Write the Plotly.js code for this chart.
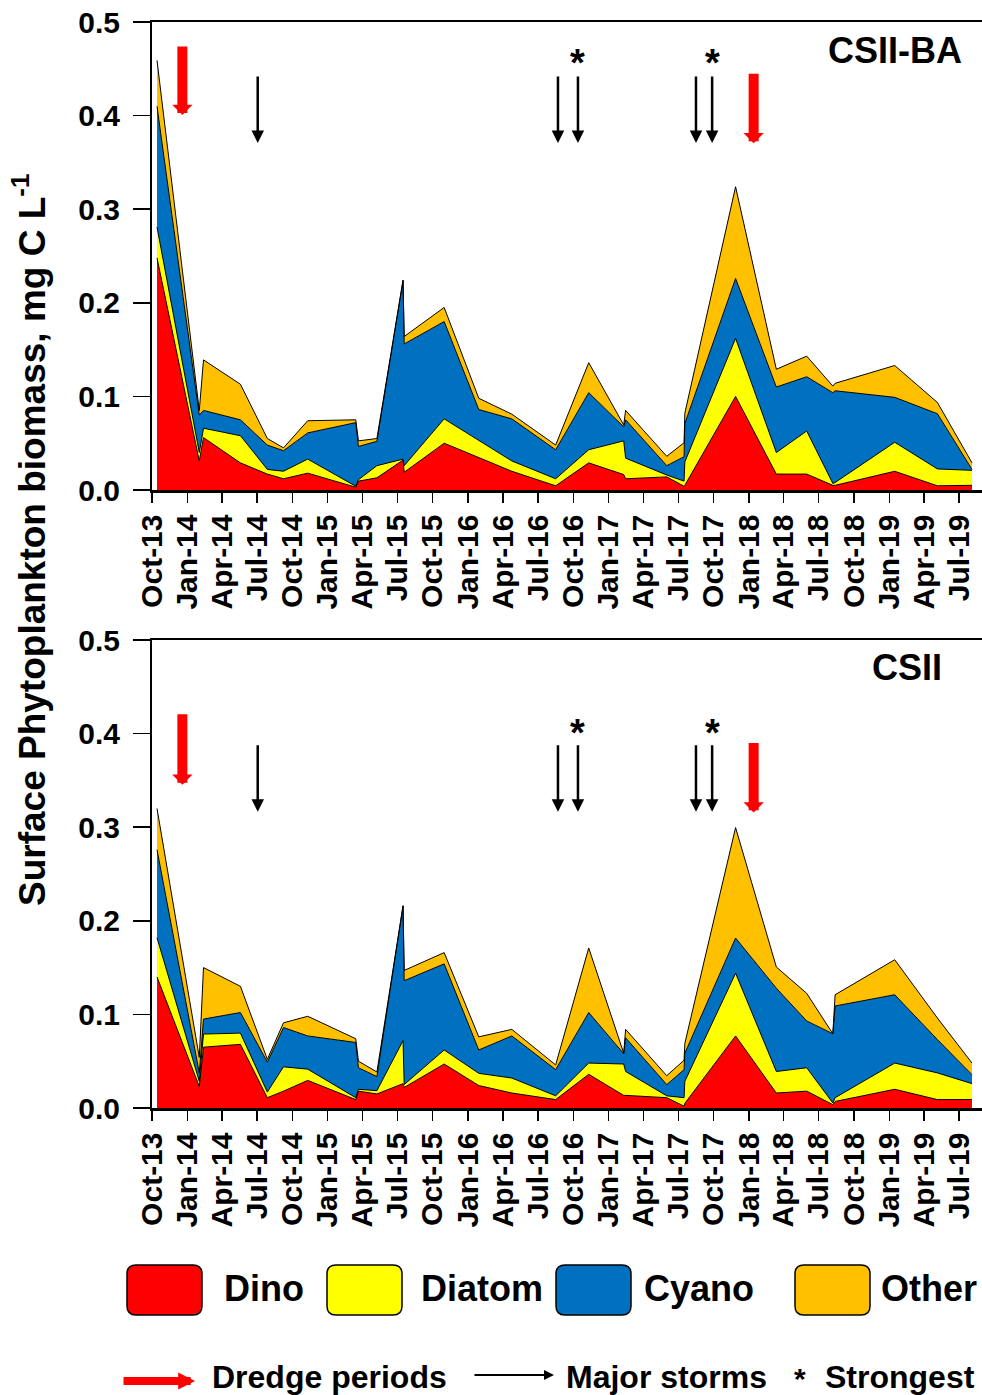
<!DOCTYPE html>
<html><head><meta charset="utf-8">
<script src="https://cdn.plot.ly/plotly-3.0.1.min.js"></script>
<style>html,body{margin:0;padding:0;background:#fff}#chart{width:982px;height:1395px}</style>
</head><body><div id="chart"></div>
<script>
// ---- data ----
const sampleDates = ['2013-10-14','2014-02-01','2014-02-12','2014-05-19','2014-07-28','2014-09-08','2014-11-10',
  '2015-03-15','2015-03-22','2015-05-09','2015-07-16','2015-07-19','2015-10-31','2016-01-29','2016-04-24',
  '2016-08-16','2016-11-10','2017-02-09','2017-02-14','2017-06-01','2017-07-16','2017-07-18','2017-11-27',
  '2018-03-13','2018-05-31','2018-08-07','2018-08-13','2019-01-15','2019-05-06','2019-08-04'];

// CSII-BA (top panel), mg C L-1
const baDino   = [0.248,0.031,0.056,0.029,0.017,0.012,0.018,0.003,0.0095,0.013,0.032,0.019,0.050,0.035,0.020,0.0045,0.029,0.0165,0.012,0.014,0.004,0.005,0.100,0.017,0.017,0.005,0.005,0.020,0.0045,0.005];
const baDiatom = [0.033,0.009,0.010,0.029,0.005,0.008,0.015,0.001,0.0015,0.013,0.001,0.007,0.026,0.018,0.011,0.0075,0.014,0.036,0.022,0.002,0.0055,0.025,0.062,0.023,0.046,0.002,0.003,0.031,0.018,0.016];
const baCyano  = [0.129,0.040,0.019,0.017,0.026,0.022,0.028,0.068,0.0355,0.026,0.191,0.130,0.104,0.033,0.045,0.031,0.061,0.015,0.041,0.010,0.026,0.041,0.064,0.070,0.058,0.097,0.098,0.048,0.059,0.001];
const baOther  = [0.049,0.005,0.054,0.038,0.007,0.003,0.013,0.003,0.006,0.003,0.000,0.008,0.015,0.012,0.005,0.005,0.032,0.002,0.010,0.010,0.015,0.011,0.098,0.019,0.022,0.007,0.008,0.034,0.012,0.007];

// CSII (bottom panel)
const csDino   = [0.140,0.023,0.065,0.068,0.011,0.018,0.0295,0.009,0.018,0.015,0.026,0.022,0.047,0.024,0.016,0.009,0.036,0.0135,0.0135,0.011,0.002,0.005,0.077,0.016,0.018,0.0036,0.007,0.020,0.009,0.009];
const csDiatom = [0.042,0.0055,0.014,0.012,0.006,0.026,0.012,0.002,0.002,0.0035,0.046,0.003,0.015,0.013,0.016,0.004,0.012,0.0335,0.0255,0.002,0.009,0.0235,0.067,0.023,0.025,0.0017,0.004,0.028,0.0285,0.017];
const csCyano  = [0.094,0.009,0.016,0.022,0.032,0.042,0.0355,0.059,0.023,0.015,0.144,0.111,0.092,0.025,0.045,0.028,0.054,0.011,0.036,0.012,0.030,0.030,0.0376,0.089,0.050,0.074,0.098,0.073,0.0356,0.0096];
const csOther  = [0.044,0.0165,0.055,0.028,0.003,0.005,0.021,0.004,0.007,0.005,0.000,0.011,0.012,0.014,0.007,0.005,0.069,0.0005,0.009,0.0095,0.010,0.0105,0.118,0.0226,0.0295,0.000,0.012,0.0374,0.023,0.0124];

const groupNames  = ['Dino','Diatom','Cyano','Other'];
const groupColors = ['#FF0000','#FFFF00','#0070C0','#FFC000'];
const panelNames  = ['CSII-BA','CSII'];

// events
const dredgeDates = ['2013-12-19','2018-01-13'];
const stormDates  = ['2014-07-03','2016-08-22','2016-10-13','2017-08-16','2017-09-27'];
const strongest   = [false,false,true,false,true];

// ---- layout helpers ----
const FONT = 'Liberation Sans, Arial, sans-serif';
const L = 152, PW = 830, T = 22, PH = 1086;
const px2x = px => (px - L) / PW;
const py2y = py => (T + PH - py) / PH;

const tickFont = {family: FONT, size: 30, color: '#000', weight: 'bold'};
function xAxis(anchor) {
  return {type: 'date', range: ['2013-10-01', '2019-08-30'], tick0: '2013-10-01', dtick: 'M3',
    tickformat: '%b-%y', tickangle: -90, ticks: 'outside', ticklen: 10, tickwidth: 1.5, tickcolor: '#000',
    showline: true, linecolor: '#000', linewidth: 2.5, mirror: true, showgrid: false, zeroline: false,
    tickfont: tickFont, anchor: anchor, fixedrange: true};
}
function yAxis(domain, anchor) {
  return {domain: domain, range: [0, 0.5], tick0: 0, dtick: 0.1, tickformat: '.1f', ticks: 'outside',
    ticklen: 17, tickwidth: 1.5, tickcolor: '#000', ticklabelstandoff: 7, showline: true, linecolor: '#000', linewidth: 2,
    showgrid: false, zeroline: false, tickfont: tickFont, anchor: anchor, fixedrange: true};
}

// ---- traces ----
const panels = [
  {xa: 'x', ya: 'y', stack: 'ba', series: [baDino, baDiatom, baCyano, baOther]},
  {xa: 'x2', ya: 'y2', stack: 'cs', series: [csDino, csDiatom, csCyano, csOther]}
];
const traces = [];
panels.forEach(p => {
  p.series.forEach((vals, i) => {
    traces.push({type: 'scatter', mode: 'lines', x: sampleDates, y: vals, name: groupNames[i],
      xaxis: p.xa, yaxis: p.ya, stackgroup: p.stack, fillcolor: groupColors[i],
      line: {color: '#000', width: 1}, showlegend: false, hoverinfo: 'skip'});
  });
});

// ---- annotations ----
const ann = [];
const arrowSpec = [
  {xr: 'x', yr: 'y', redTip: [0.4006, 0.3704], redLen: [70, 71], blackTip: 0.3707, blackLen: 68, star: 0.456},
  {xr: 'x2', yr: 'y2', redTip: [0.3454, 0.3158], redLen: [72, 71], blackTip: 0.3166, blackLen: 68, star: 0.401}
];
arrowSpec.forEach((s, pi) => {
  dredgeDates.forEach((d, i) => {
    ann.push({xref: s.xr, yref: s.yr, x: d, y: s.redTip[i], ax: 0, ay: -s.redLen[i], text: '',
      showarrow: true, arrowhead: 1, arrowwidth: 10, arrowsize: 0.34, arrowcolor: '#FF0000', standoff: 0});
  });
  stormDates.forEach((d, i) => {
    ann.push({xref: s.xr, yref: s.yr, x: d, y: s.blackTip, ax: 0, ay: -s.blackLen, text: '',
      showarrow: true, arrowhead: 2, arrowwidth: 2.5, arrowsize: 1.0, arrowcolor: '#000', standoff: 0});
    if (strongest[i]) {
      ann.push({xref: s.xr, yref: s.yr, x: d, y: s.star, text: '*', showarrow: false,
        xanchor: 'center', yanchor: 'middle', font: {family: FONT, size: 38, weight: 'bold', color: '#000'}});
    }
  });
});
// panel labels
ann.push({xref: 'paper', yref: 'paper', x: px2x(964), y: py2y(50), xanchor: 'right', yanchor: 'middle',
  text: panelNames[0], showarrow: false, font: {family: FONT, size: 36, weight: 'bold', color: '#000'}});
ann.push({xref: 'paper', yref: 'paper', x: px2x(944), y: py2y(667), xanchor: 'right', yanchor: 'middle',
  text: panelNames[1], showarrow: false, font: {family: FONT, size: 36, weight: 'bold', color: '#000'}});
// y title
ann.push({xref: 'paper', yref: 'paper', x: px2x(29), y: py2y(540), xanchor: 'center', yanchor: 'middle',
  textangle: -90, showarrow: false, text: 'Surface Phytoplankton biomass, mg C L<sup>-1</sup>',
  font: {family: FONT, size: 37, weight: 'bold', color: '#000'}});

// ---- custom legend ----
const shapes = [];
function roundRect(x0, y0, x1, y1, r) {
  const P = (x, y) => px2x(x).toFixed(5) + ',' + py2y(y).toFixed(5);
  return 'M' + P(x0 + r, y0) + ' L' + P(x1 - r, y0) + ' Q' + P(x1, y0) + ' ' + P(x1, y0 + r) +
    ' L' + P(x1, y1 - r) + ' Q' + P(x1, y1) + ' ' + P(x1 - r, y1) + ' L' + P(x0 + r, y1) +
    ' Q' + P(x0, y1) + ' ' + P(x0, y1 - r) + ' L' + P(x0, y0 + r) + ' Q' + P(x0, y0) + ' ' + P(x0 + r, y0) + ' Z';
}
const legBoxX = [127, 327, 556, 795];
const legTextX = [222, 419, 642, 879];
groupNames.forEach((n, i) => {
  shapes.push({type: 'path', xref: 'paper', yref: 'paper', path: roundRect(legBoxX[i], 1265, legBoxX[i] + 75, 1315, 9),
    fillcolor: groupColors[i], line: {color: '#000', width: 1.5}});
  ann.push({xref: 'paper', yref: 'paper', x: px2x(legTextX[i]), y: py2y(1288), xanchor: 'left', yanchor: 'middle',
    text: n, showarrow: false, font: {family: FONT, size: 36, weight: 'bold', color: '#000'}});
});
// second legend row
const row2 = 1377;
ann.push({xref: 'paper', yref: 'paper', x: px2x(195), y: py2y(1381), ax: -73, ay: 0, text: '', showarrow: true,
  arrowhead: 2, arrowwidth: 8, arrowsize: 0.42, arrowcolor: '#FF0000', standoff: 0});
ann.push({xref: 'paper', yref: 'paper', x: px2x(210), y: py2y(row2), xanchor: 'left', yanchor: 'middle',
  text: 'Dredge periods', showarrow: false, font: {family: FONT, size: 32, weight: 'bold', color: '#000'}});
ann.push({xref: 'paper', yref: 'paper', x: px2x(554), y: py2y(1375), ax: -81, ay: 0, text: '', showarrow: true,
  arrowhead: 2, arrowwidth: 2, arrowsize: 1, arrowcolor: '#000', standoff: 0});
ann.push({xref: 'paper', yref: 'paper', x: px2x(564), y: py2y(row2), xanchor: 'left', yanchor: 'middle',
  text: 'Major storms', showarrow: false, font: {family: FONT, size: 32, weight: 'bold', color: '#000'}});
ann.push({xref: 'paper', yref: 'paper', x: px2x(800), y: py2y(1378), xanchor: 'center', yanchor: 'middle',
  text: '*', showarrow: false, font: {family: FONT, size: 30, weight: 'bold', color: '#000'}});
ann.push({xref: 'paper', yref: 'paper', x: px2x(823), y: py2y(row2), xanchor: 'left', yanchor: 'middle',
  text: 'Strongest', showarrow: false, font: {family: FONT, size: 32, weight: 'bold', color: '#000'}});

const layout = {
  width: 982, height: 1395, margin: {l: L, r: 0, t: T, b: 1395 - T - PH},
  paper_bgcolor: '#fff', plot_bgcolor: '#fff', showlegend: false, hovermode: false,
  xaxis: xAxis('y'), yaxis: yAxis([(1108 - 490) / PH, 1], 'x'),
  xaxis2: xAxis('y2'), yaxis2: yAxis([0, (1108 - 640) / PH], 'x2'),
  annotations: ann, shapes: shapes
};
Plotly.newPlot('chart', traces, layout, {displayModeBar: false, staticPlot: true});
</script></body></html>
